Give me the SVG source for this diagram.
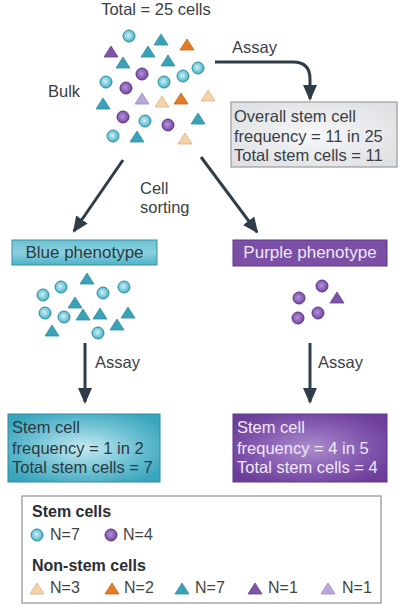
<svg xmlns="http://www.w3.org/2000/svg" xmlns:xlink="http://www.w3.org/1999/xlink" width="400" height="606" viewBox="0 0 400 606">
<style>
text{font-family:"Liberation Sans",Arial,sans-serif;font-size:16.5px;fill:#3a3f44}
.b{font-weight:bold;font-size:16px;fill:#2a2e33}
.lg{font-size:16px;fill:#444}
.w{fill:#efe8f7}
.arrow{fill:none;stroke:#2f3d49;stroke-width:3}
.ct{fill:url(#gCyan);stroke:#2d8ea4;stroke-width:1}
.cp{fill:url(#gPurp);stroke:#5e3489;stroke-width:1}
.tt{fill:#3aa2b6;stroke:#2d8ea4;stroke-width:0.8}
.to{fill:#e27b27;stroke:#c86618;stroke-width:0.8}
.tp{fill:#7c54a8;stroke:#643f8f;stroke-width:0.8}
.tl{fill:#b9a8d8;stroke:#9a86c2;stroke-width:0.8}
.tk{fill:#f4d3ac;stroke:#dcae7c;stroke-width:0.8}
</style>
<defs>
<radialGradient id="gCyan" cx="0.45" cy="0.45" r="0.6">
<stop offset="0" stop-color="#d2f0f5"/><stop offset="0.55" stop-color="#7ccbdb"/><stop offset="1" stop-color="#3aa4ba"/>
</radialGradient>
<radialGradient id="gPurp" cx="0.45" cy="0.45" r="0.6">
<stop offset="0" stop-color="#b394d8"/><stop offset="1" stop-color="#6d3f9c"/>
</radialGradient>
<radialGradient id="gBlueBox" cx="0.5" cy="0.5" r="0.6">
<stop offset="0" stop-color="#c6eaf1"/><stop offset="0.6" stop-color="#6cc0d2"/><stop offset="1" stop-color="#3aa6be"/>
</radialGradient>
<radialGradient id="gPurpBox" cx="0.5" cy="0.5" r="0.6">
<stop offset="0" stop-color="#aa8ccd"/><stop offset="0.6" stop-color="#8459b0"/><stop offset="1" stop-color="#6c3e9a"/>
</radialGradient>
<linearGradient id="gBlueHdr" x1="0" y1="0" x2="0" y2="1">
<stop offset="0" stop-color="#6cc2d4"/><stop offset="0.5" stop-color="#8ad0de"/><stop offset="1" stop-color="#4fb2c7"/>
</linearGradient>
<radialGradient id="gGray" cx="0.5" cy="0.5" r="0.6">
<stop offset="0" stop-color="#f6f7f8"/><stop offset="1" stop-color="#dfe1e4"/>
</radialGradient>
<path id="tri" d="M0,-6 L7,5 L-7,5 Z"/>
<marker id="ah" markerUnits="userSpaceOnUse" markerWidth="16" markerHeight="16" refX="14" refY="7" orient="auto" viewBox="0 0 16 14">
<path d="M0,0 L16,7 L0,14 Z" fill="#2f3d49"/>
</marker>
</defs>
<rect width="400" height="606" fill="#ffffff"/>

<g id="bulk">
<text x="156" y="15" text-anchor="middle">Total = 25 cells</text>
<text x="48" y="97">Bulk</text>
<circle class="ct" cx="129" cy="36" r="6"/>
<circle class="ct" cx="198" cy="68" r="6"/>
<circle class="ct" cx="183" cy="76" r="6"/>
<circle class="ct" cx="106" cy="82" r="6"/>
<circle class="ct" cx="164" cy="82" r="6"/>
<circle class="ct" cx="145" cy="121" r="6"/>
<circle class="ct" cx="113" cy="136" r="6"/>
<circle class="cp" cx="142" cy="74" r="6"/>
<circle class="cp" cx="126" cy="88" r="6"/>
<circle class="cp" cx="123" cy="117" r="6"/>
<circle class="cp" cx="168" cy="125" r="6"/>
<use xlink:href="#tri" class="tt" x="161" y="40"/>
<use xlink:href="#tri" class="tt" x="148" y="52"/>
<use xlink:href="#tri" class="tt" x="123" y="63"/>
<use xlink:href="#tri" class="tt" x="168" y="61"/>
<use xlink:href="#tri" class="tt" x="103" y="104"/>
<use xlink:href="#tri" class="tt" x="198" y="119"/>
<use xlink:href="#tri" class="tt" x="137" y="137"/>
<use xlink:href="#tri" class="to" x="187" y="45"/>
<use xlink:href="#tri" class="to" x="181" y="99"/>
<use xlink:href="#tri" class="tp" x="111" y="52"/>
<use xlink:href="#tri" class="tl" x="142" y="99"/>
<use xlink:href="#tri" class="tk" x="162" y="102"/>
<use xlink:href="#tri" class="tk" x="208" y="96"/>
<use xlink:href="#tri" class="tk" x="185" y="139"/>
</g>

<g id="overall">
<rect x="231" y="102" width="166" height="65" fill="url(#gGray)" stroke="#9a9c9f" stroke-width="1.2"/>
<text x="234" y="122">Overall stem cell</text>
<text x="234" y="142">frequency = 11 in 25</text>
<text x="234" y="161">Total stem cells = 11</text>
</g>

<g id="blue-phenotype">
<rect x="12" y="240" width="145" height="25" fill="url(#gBlueHdr)" stroke="#3a90a4" stroke-width="1"/>
<text x="84.5" y="258" text-anchor="middle" style="font-size:17px;fill:#2c3a44">Blue phenotype</text>
<circle class="ct" cx="43" cy="295" r="6"/>
<circle class="ct" cx="61" cy="287" r="6"/>
<circle class="ct" cx="103" cy="293" r="6"/>
<circle class="ct" cx="124" cy="287" r="6"/>
<circle class="ct" cx="45" cy="313" r="6"/>
<circle class="ct" cx="64" cy="317" r="6"/>
<circle class="ct" cx="98" cy="333" r="6"/>
<use xlink:href="#tri" class="tt" x="87" y="279"/>
<use xlink:href="#tri" class="tt" x="75" y="303"/>
<use xlink:href="#tri" class="tt" x="83" y="315"/>
<use xlink:href="#tri" class="tt" x="100" y="314"/>
<use xlink:href="#tri" class="tt" x="128" y="313"/>
<use xlink:href="#tri" class="tt" x="52" y="331"/>
<use xlink:href="#tri" class="tt" x="117" y="325"/>
</g>

<g id="purple-phenotype">
<rect x="233" y="240" width="154" height="26" fill="#7b4fa5" stroke="#5f3788" stroke-width="1"/>
<text x="310" y="258" text-anchor="middle" class="w" style="font-size:17px">Purple phenotype</text>
<circle class="cp" cx="322" cy="286" r="6"/>
<circle class="cp" cx="299" cy="298" r="6"/>
<circle class="cp" cx="318" cy="313" r="6"/>
<circle class="cp" cx="298" cy="318" r="6"/>
<use xlink:href="#tri" class="tp" x="337" y="298"/>
</g>

<g id="blue-result">
<rect x="8" y="414" width="152" height="68" fill="url(#gBlueBox)" stroke="#2f8ba2" stroke-width="1"/>
<text x="12" y="433" style="fill:#2c3a44">Stem cell</text>
<text x="12" y="454" style="fill:#2c3a44">frequency = 1 in 2</text>
<text x="12" y="473" style="fill:#2c3a44">Total stem cells = 7</text>
</g>

<g id="purple-result">
<rect x="233" y="414" width="154" height="68" fill="url(#gPurpBox)" stroke="#5f3788" stroke-width="1"/>
<text x="237" y="433" class="w">Stem cell</text>
<text x="237" y="454" class="w">frequency = 4 in 5</text>
<text x="237" y="473" class="w">Total stem cells = 4</text>
</g>

<g id="connectors">
<path class="arrow" d="M215,62 H293 Q310,62 310,79 V99" marker-end="url(#ah)"/>
<text x="232" y="53">Assay</text>
<path class="arrow" d="M123,160 L74,231" marker-end="url(#ah)"/>
<path class="arrow" d="M201,157 L257,232" marker-end="url(#ah)"/>
<text x="140" y="194">Cell</text>
<text x="140" y="213">sorting</text>
<path class="arrow" d="M85,343 V402" marker-end="url(#ah)"/>
<text x="95" y="368">Assay</text>
<path class="arrow" d="M310,343 V402" marker-end="url(#ah)"/>
<text x="318" y="368">Assay</text>
</g>

<g id="legend">
<rect x="22" y="496" width="359" height="107" fill="#ffffff" stroke="#8e9094" stroke-width="1.2"/>
<text x="32" y="517" class="b">Stem cells</text>
<circle class="ct" cx="37" cy="535" r="6"/>
<text x="50" y="540" class="lg">N=7</text>
<circle class="cp" cx="111" cy="535" r="6"/>
<text x="123" y="540" class="lg">N=4</text>
<text x="32" y="571" class="b">Non-stem cells</text>
<use xlink:href="#tri" class="tk" x="37" y="589"/>
<text x="50" y="593" class="lg">N=3</text>
<use xlink:href="#tri" class="to" x="112" y="589"/>
<text x="124" y="593" class="lg">N=2</text>
<use xlink:href="#tri" class="tt" x="182" y="589"/>
<text x="195" y="593" class="lg">N=7</text>
<use xlink:href="#tri" class="tp" x="255" y="589"/>
<text x="268" y="593" class="lg">N=1</text>
<use xlink:href="#tri" class="tl" x="328" y="589"/>
<text x="342" y="593" class="lg">N=1</text>
</g>
</svg>
